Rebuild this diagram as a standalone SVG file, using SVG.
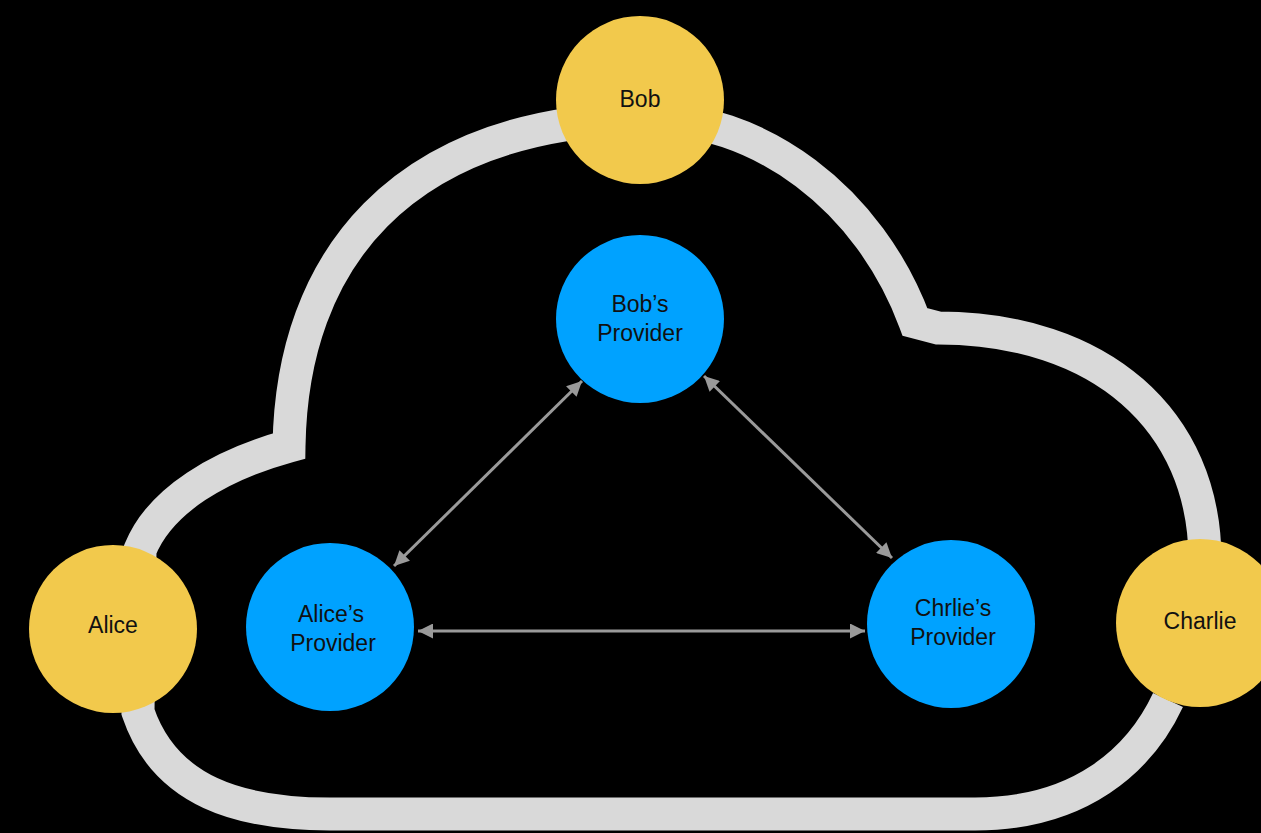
<svg xmlns="http://www.w3.org/2000/svg" width="1261" height="833" viewBox="0 0 1261 833">
  <style>
    .cloud { fill: none; stroke: #d9d9d9; stroke-width: 33; stroke-linejoin: miter; }
    .person { fill: #f2c94c; }
    .provider { fill: #00a2ff; }
    .label { font-family: "Liberation Sans", Arial, sans-serif; font-size: 23px; fill: #111; text-anchor: middle; }
    .link { stroke: #9a9a9a; stroke-width: 3; fill: none; marker-start: url(#arrow); marker-end: url(#arrow); }
  </style>
  <defs>
    <marker id="arrow" viewBox="0 0 10 10" refX="10" refY="5" markerWidth="5.5" markerHeight="5" orient="auto-start-reverse" markerUnits="strokeWidth">
      <path d="M0,0 L10,5 L0,10 Z" fill="#9a9a9a"/>
    </marker>
  </defs>
  <rect width="1261" height="833" fill="#000"/>

  <g id="cloud">
    <path class="cloud" d="M 1205 560 C 1205 420 1100 328 938 328 L 915 322 C 870 200 760 115 640 118 C 400 125 292 260 289 446 C 220 465 160 500 140 550 L 138 712 C 165 792 240 814 330 814 L 975 814 C 1080 814 1140 760 1168 700"/>
  </g>

  <g id="connectors">
    <line class="link" x1="582" y1="381" x2="394" y2="566"/>
    <line class="link" x1="704" y1="376" x2="892" y2="558"/>
    <line class="link" x1="418" y1="631" x2="865" y2="631"/>
  </g>

  <g id="bob">
    <circle class="person" cx="640" cy="100" r="84"/>
    <text class="label" x="640" y="107">Bob</text>
  </g>
  <g id="alice">
    <circle class="person" cx="113" cy="629" r="84"/>
    <text class="label" x="113" y="633">Alice</text>
  </g>
  <g id="charlie">
    <circle class="person" cx="1200" cy="623" r="84"/>
    <text class="label" x="1200" y="629">Charlie</text>
  </g>
  <g id="bobs-provider">
    <circle class="provider" cx="640" cy="319" r="84"/>
    <text class="label" x="640" y="312">Bob’s</text>
    <text class="label" x="640" y="341">Provider</text>
  </g>
  <g id="alices-provider">
    <circle class="provider" cx="330" cy="627" r="84"/>
    <text class="label" x="331" y="622">Alice’s</text>
    <text class="label" x="333" y="651">Provider</text>
  </g>
  <g id="chrlies-provider">
    <circle class="provider" cx="951" cy="624" r="84"/>
    <text class="label" x="953" y="616">Chrlie’s</text>
    <text class="label" x="953" y="645">Provider</text>
  </g>
</svg>
